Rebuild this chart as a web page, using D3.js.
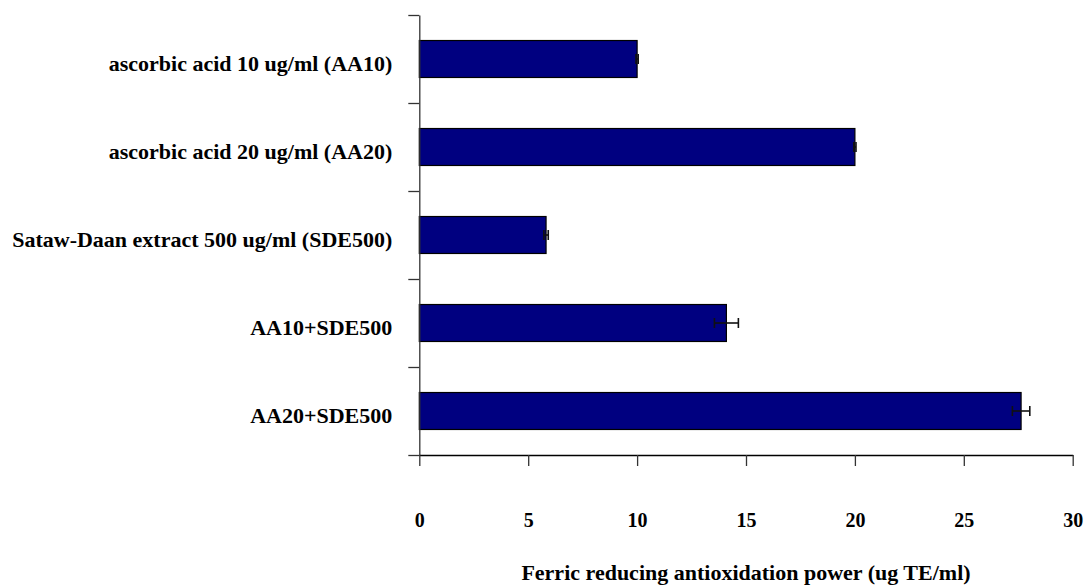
<!DOCTYPE html>
<html>
<head>
<meta charset="utf-8">
<script src="https://cdn.jsdelivr.net/npm/d3@7"></script>
<style>
  html, body { margin: 0; padding: 0; background: #fff; }
  svg { display: block; }
  text { font-family: "Liberation Serif", "Times New Roman", serif; font-weight: bold; fill: #000; }
</style>
</head>
<body>
<svg id="chart" width="1088" height="585"></svg>
<script>
// Treatments, top to bottom
const categories = [
  "ascorbic acid 10 ug/ml (AA10)",
  "ascorbic acid 20 ug/ml (AA20)",
  "Sataw-Daan extract 500 ug/ml (SDE500)",
  "AA10+SDE500",
  "AA20+SDE500"
];
// FRAP, ug TE/ml (mean and error)
const values = [10.0, 20.0, 5.82, 14.1, 27.63];
const errors = [0.05, 0.05, 0.1, 0.55, 0.4];
const xTicks = [0, 5, 10, 15, 20, 25, 30];
const xTitle = "Ferric reducing antioxidation power (ug TE/ml)";

const svg = d3.select("#chart");

const plotLeft = 419.3, plotRight = 1072.7, plotTop = 15, plotBottom = 455;

const x = d3.scaleLinear().domain([0, 30]).range([plotLeft, plotRight]);
const y = d3.scaleBand().domain(categories).range([plotTop, plotBottom])
  .paddingInner(0.58).paddingOuter(0.29);
// boundaries between categories for the tick marks on the vertical axis
const yEdges = d3.scaleLinear().domain([0, categories.length]).range([plotTop, plotBottom]);

// bars
svg.append("g").selectAll("rect")
  .data(values)
  .join("rect")
  .attr("x", x(0))
  .attr("y", (d, i) => y(categories[i]))
  .attr("width", d => x(d) - x(0))
  .attr("height", y.bandwidth())
  .attr("fill", "#000080")
  .attr("stroke", "#000")
  .attr("stroke-width", 1.2);

// error bars
const eb = svg.append("g").attr("stroke", "#111").attr("stroke-width", 1.6);
values.forEach((v, i) => {
  const cy = y(categories[i]) + y.bandwidth() / 2;
  const x0 = x(v - errors[i]), x1 = x(v + errors[i]);
  eb.append("line").attr("x1", x0).attr("x2", x1).attr("y1", cy).attr("y2", cy);
  eb.append("line").attr("x1", x0).attr("x2", x0).attr("y1", cy - 5).attr("y2", cy + 5);
  eb.append("line").attr("x1", x1).attr("x2", x1).attr("y1", cy - 5).attr("y2", cy + 5);
});

// vertical axis: ticks between categories
const yAxis = svg.append("g")
  .attr("transform", `translate(${plotLeft},0)`)
  .call(d3.axisLeft(yEdges).ticks(categories.length).tickSize(11).tickSizeOuter(0).tickFormat(""));
yAxis.select(".domain").attr("stroke", "#333").attr("stroke-width", 1.3);
yAxis.selectAll(".tick line").attr("stroke", "#333").attr("stroke-width", 1.3);

// category labels
svg.append("g").selectAll("text")
  .data(categories)
  .join("text")
  .attr("x", plotLeft - 27)
  .attr("y", d => y(d) + y.bandwidth() / 2 + 11.5)
  .attr("text-anchor", "end")
  .style("font-size", "22px")
  .text(d => d);

// horizontal axis
const xAxis = svg.append("g")
  .attr("transform", `translate(0,${plotBottom})`)
  .call(d3.axisBottom(x).tickValues(xTicks).tickSize(11).tickSizeOuter(0).tickPadding(46.5));
xAxis.select(".domain").attr("stroke", "#000").attr("stroke-width", 1.3);
xAxis.selectAll(".tick line").attr("stroke", "#333").attr("stroke-width", 1.3);
xAxis.selectAll(".tick text")
  .style("font-size", "20px")
  .style("font-family", "'Liberation Serif', 'Times New Roman', serif")
  .style("font-weight", "bold")
  .attr("fill", "#000");

// axis title
svg.append("text")
  .attr("x", (plotLeft + plotRight) / 2)
  .attr("y", 580)
  .attr("text-anchor", "middle")
  .style("font-size", "22px")
  .text(xTitle);
</script>
</body>
</html>
